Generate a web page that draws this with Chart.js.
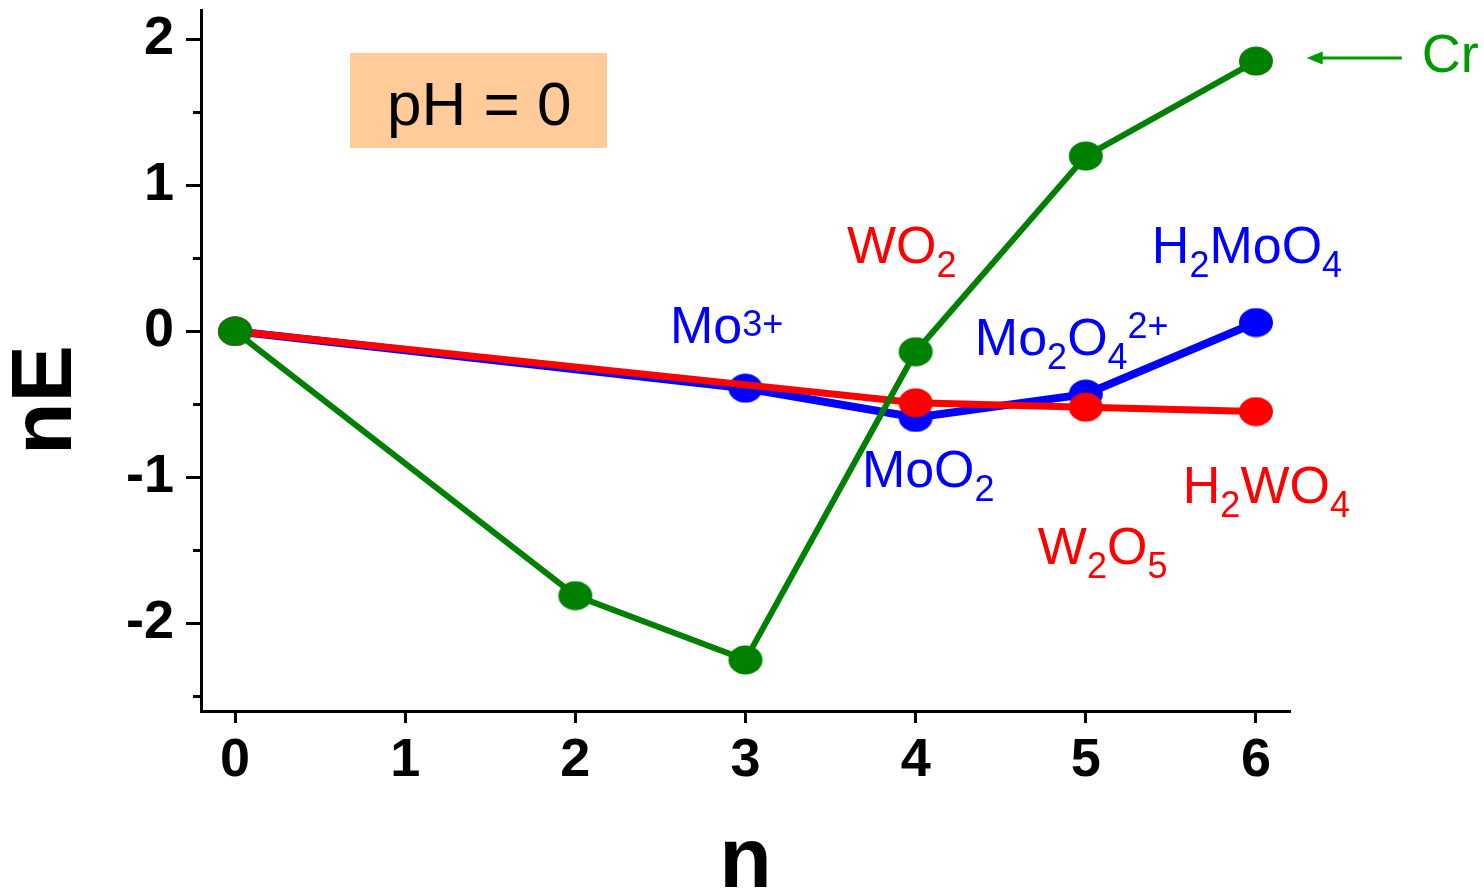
<!DOCTYPE html>
<html><head><meta charset="utf-8">
<script src="https://cdn.jsdelivr.net/npm/chart.js@4.4.0/dist/chart.umd.min.js"></script>
<style>html,body{margin:0;padding:0;background:#fff;}canvas{display:block}</style>
</head><body>
<canvas id="c" width="1484" height="893"></canvas>
<script>
// ---- data ----
const crN = [0, 2, 3, 4, 5, 6];
const crE = [0, -1.81, -2.25, -0.14, 1.20, 1.85];
const moN = [0, 3, 4, 5, 6];
const moE = [0, -0.39, -0.59, -0.43, 0.06];
const wN = [0, 4, 5, 6];
const wE = [0, -0.49, -0.52, -0.55];
const xTicks = [0, 1, 2, 3, 4, 5, 6];
const yTicks = [-2, -1, 0, 1, 2];
const yMinorTicks = [-2.5, -1.5, -0.5, 0.5, 1.5];

// ---- annotation layout (data coordinates) ----
const FONT = '"Liberation Sans", Arial, sans-serif';
const BLUE = '#0000ff', RED = '#ff0000', GREEN = '#008000', CRGREEN = '#009900';
const species = [
  {segs: [['Mo', ''], ['3+', 'sup']], color: BLUE, x: 2.556, y: -0.08, rise: 7},
  {segs: [['WO', ''], ['2', 'sub']], color: RED, x: 3.596, y: 0.468},
  {segs: [['Mo', ''], ['2', 'sub'], ['O', ''], ['4', 'sub'], ['2+', 'sup']], color: BLUE, x: 4.348, y: -0.162, rise: 17},
  {segs: [['H', ''], ['2', 'sub'], ['MoO', ''], ['4', 'sub']], color: BLUE, x: 5.388, y: 0.468},
  {segs: [['MoO', ''], ['2', 'sub']], color: BLUE, x: 3.684, y: -1.066},
  {segs: [['H', ''], ['2', 'sub'], ['WO', ''], ['4', 'sub']], color: RED, x: 5.570, y: -1.176},
  {segs: [['W', ''], ['2', 'sub'], ['O', ''], ['5', 'sub']], color: RED, x: 4.718, y: -1.593}
];

function ellipse(color) {
  const c = document.createElement('canvas');
  c.width = 36; c.height = 30;
  const g = c.getContext('2d');
  g.fillStyle = color;
  g.beginPath();
  g.ellipse(18, 15, 17, 14.5, 0, 0, Math.PI * 2);
  g.fill();
  return c;
}
const toXY = (xs, ys) => xs.map((v, i) => ({x: v, y: ys[i]}));

const overlay = {
  id: 'overlay',
  beforeDatasetsDraw(chart) {
    const {ctx, scales: {x, y}} = chart;
    const bx1 = x.getPixelForValue(0.676), bx2 = x.getPixelForValue(2.186);
    const by1 = y.getPixelForValue(1.906), by2 = y.getPixelForValue(1.255);
    ctx.save();
    ctx.fillStyle = '#ffcc99';
    ctx.fillRect(bx1, by1, bx2 - bx1, by2 - by1);
    ctx.fillStyle = '#000';
    ctx.font = '62px ' + FONT;
    ctx.textBaseline = 'alphabetic';
    ctx.textAlign = 'left';
    ctx.fillText('pH = 0', x.getPixelForValue(0.893), y.getPixelForValue(1.413));
    ctx.restore();
  },
  afterDraw(chart) {
    const {ctx, scales: {x, y}} = chart;
    ctx.save();
    ctx.strokeStyle = '#000';
    ctx.lineWidth = 3;
    for (const v of yMinorTicks) {
      const py = Math.round(y.getPixelForValue(v)) + 0.5;
      ctx.beginPath();
      ctx.moveTo(y.right, py);
      ctx.lineTo(y.right - 8, py);
      ctx.stroke();
    }
    ctx.save();
    ctx.translate(47, 400);
    ctx.rotate(-Math.PI / 2);
    ctx.font = 'bold 86px ' + FONT;
    ctx.fillStyle = '#000';
    ctx.textAlign = 'center';
    ctx.textBaseline = 'middle';
    ctx.fillText('nE', 0, 0);
    ctx.restore();
    ctx.textAlign = 'left';
    ctx.textBaseline = 'alphabetic';
    for (const s of species) {
      let cx = x.getPixelForValue(s.x);
      const by = y.getPixelForValue(s.y);
      ctx.fillStyle = s.color;
      for (const [t, k] of s.segs) {
        const size = k ? 36 : 52;
        ctx.font = size + 'px ' + FONT;
        const dy = k === 'sub' ? 14 : k === 'sup' ? -(s.rise || 12) : 0;
        ctx.fillText(t, cx, by + dy);
        cx += ctx.measureText(t).width;
      }
    }
    const ay = y.getPixelForValue(1.871);
    const tip = x.getPixelForValue(6.298), tail = x.getPixelForValue(6.857);
    ctx.strokeStyle = CRGREEN;
    ctx.fillStyle = CRGREEN;
    ctx.lineWidth = 3;
    ctx.beginPath();
    ctx.moveTo(tail, ay);
    ctx.lineTo(tip + 12, ay);
    ctx.stroke();
    ctx.beginPath();
    ctx.moveTo(tip, ay);
    ctx.lineTo(tip + 16, ay - 6.5);
    ctx.lineTo(tip + 16, ay + 6.5);
    ctx.closePath();
    ctx.fill();
    ctx.font = '54px ' + FONT;
    ctx.fillText('Cr', x.getPixelForValue(6.974), y.getPixelForValue(1.775));
    ctx.restore();
  }
};

new Chart(document.getElementById('c'), {
  type: 'line',
  data: {
    datasets: [
      {label: 'Cr', data: toXY(crN, crE), borderColor: GREEN, backgroundColor: GREEN, borderWidth: 6,
       pointStyle: ellipse(GREEN), pointRadius: 15},
      {label: 'W', data: toXY(wN, wE), borderColor: RED, backgroundColor: RED, borderWidth: 7,
       pointStyle: ellipse(RED), pointRadius: 15},
      {label: 'Mo', data: toXY(moN, moE), borderColor: BLUE, backgroundColor: BLUE, borderWidth: 8,
       pointStyle: ellipse(BLUE), pointRadius: 15}
    ]
  },
  options: {
    responsive: false,
    animation: false,
    events: [],
    layout: {autoPadding: false, padding: {top: 10, right: 194, left: 0, bottom: 0}},
    plugins: {legend: {display: false}, tooltip: {enabled: false}},
    scales: {
      x: {
        type: 'linear', min: -0.2, max: 6.2,
        afterBuildTicks: s => { s.ticks = xTicks.map(v => ({value: v})); },
        afterFit: s => { s.height = 182; s.paddingLeft = 0; s.paddingRight = 0; },
        grid: {display: true, drawOnChartArea: false, tickLength: 12, tickWidth: 3, tickColor: '#000'},
        border: {display: true, width: 3, color: '#000'},
        ticks: {font: {family: FONT, size: 54, weight: 'bold'}, color: '#000', padding: 6, maxRotation: 0, autoSkip: false,
                callback: v => String(v)},
        title: {display: true, text: 'n', color: '#000', font: {family: FONT, size: 86, weight: 'bold', lineHeight: 0.6},
                padding: {top: 0, bottom: 4}}
      },
      y: {
        type: 'linear', min: -2.6, max: 2.2,
        afterBuildTicks: s => { s.ticks = yTicks.map(v => ({value: v})); },
        afterFit: s => { s.width = 201; s.paddingTop = 0; s.paddingBottom = 0; },
        grid: {display: true, drawOnChartArea: false, tickLength: 15, tickWidth: 3, tickColor: '#000'},
        border: {display: true, width: 3, color: '#000'},
        ticks: {font: {family: FONT, size: 54, weight: 'bold'}, color: '#000', padding: 12,
                callback: v => String(v)}
      }
    }
  },
  plugins: [overlay]
});
</script>
</body></html>
